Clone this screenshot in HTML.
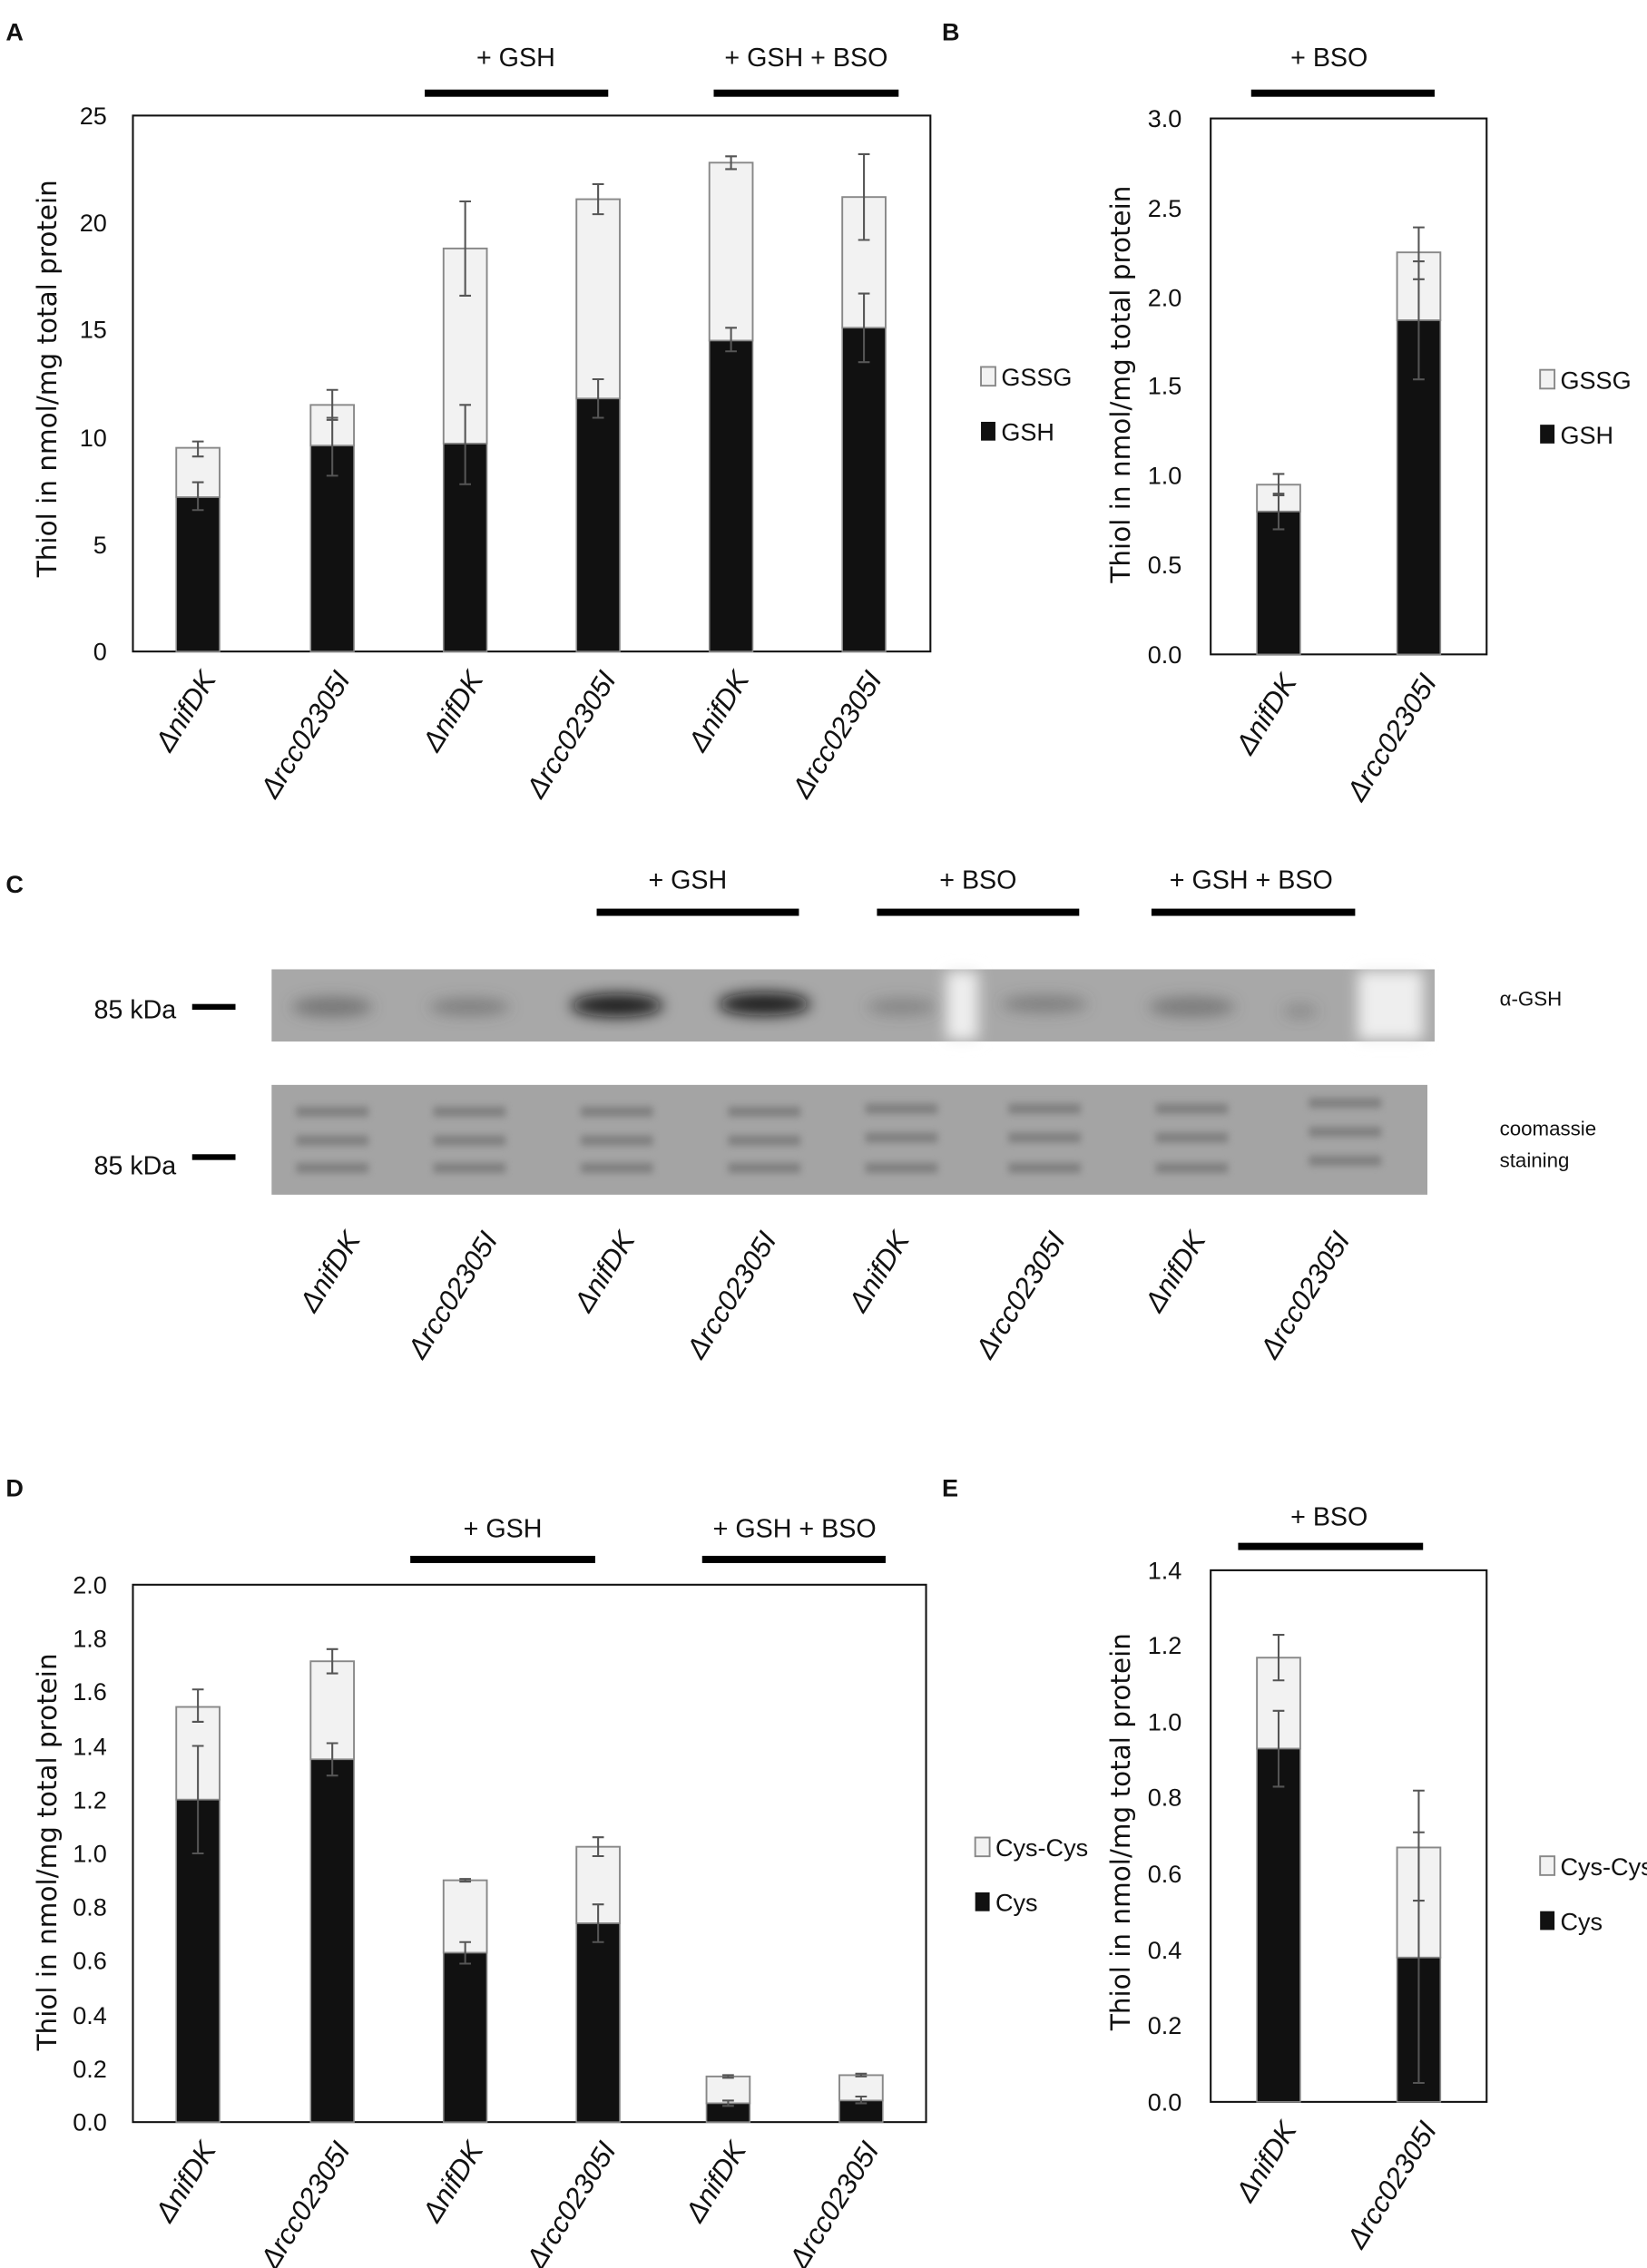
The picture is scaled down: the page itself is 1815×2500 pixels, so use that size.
<!DOCTYPE html>
<html><head><meta charset="utf-8"><style>html,body{margin:0;padding:0;background:#fff}svg{display:block}
.t{font-family:"Liberation Sans",sans-serif;font-size:17px;fill:#111}
.ti{font-family:"DejaVu Sans",sans-serif;font-size:18.5px;fill:#111}
.l{font-family:"Liberation Sans",sans-serif;font-size:19.5px;font-style:italic;fill:#111}
.h{font-family:"Liberation Sans",sans-serif;font-size:18px;fill:#111}
.p{font-family:"Liberation Sans",sans-serif;font-size:17px;font-weight:bold;fill:#111}
.g{fill:#f2f2f2;stroke:#888;stroke-width:1.2}.k{fill:#111;stroke:#888;stroke-width:1}
.e{stroke:#555;stroke-width:1.3;fill:none}
</style></head><body>
<svg width="1815" height="2500" viewBox="0 0 1140 1570" preserveAspectRatio="none" xmlns="http://www.w3.org/2000/svg">
<defs><filter id="bl" x="-50%" y="-50%" width="200%" height="200%"><feGaussianBlur stdDeviation="5"/></filter>
<filter id="bl2"><feGaussianBlur stdDeviation="2.5"/></filter></defs>
<!-- Panel A -->
<text class="p" x="4" y="28">A</text>
<text class="h" x="357" y="46" text-anchor="middle">+ GSH</text>
<rect x="294" y="62" width="127" height="5" fill="#000"/>
<text class="h" x="558" y="46" text-anchor="middle">+ GSH + BSO</text>
<rect x="494" y="62" width="128" height="5" fill="#000"/>
<rect x="92" y="80" width="552" height="371" fill="none" stroke="#111" stroke-width="1.3"/>
<g class="t" text-anchor="end">
<text x="74" y="457">0</text><text x="74" y="383">5</text><text x="74" y="309">10</text><text x="74" y="234">15</text><text x="74" y="160">20</text><text x="74" y="86">25</text></g>
<text class="ti" transform="translate(39,262) rotate(-90)" text-anchor="middle">Thiol in nmol/mg total protein</text>
<rect class="g" x="122" y="310" width="30" height="34.2"/><rect class="k" x="122" y="344.2" width="30" height="106.8"/>
<rect class="g" x="215" y="280.3" width="30" height="28.2"/><rect class="k" x="215" y="308.5" width="30" height="142.5"/>
<rect class="g" x="307" y="172" width="30" height="135.1"/><rect class="k" x="307" y="307.1" width="30" height="143.9"/>
<rect class="g" x="399" y="137.9" width="30" height="138"/><rect class="k" x="399" y="275.9" width="30" height="175.1"/>
<rect class="g" x="491" y="112.6" width="30" height="123.2"/><rect class="k" x="491" y="235.8" width="30" height="215.2"/>
<rect class="g" x="583" y="136.4" width="30" height="90.5"/><rect class="k" x="583" y="226.9" width="30" height="224.1"/>
<path class="e" d="M137 353.1V333.8M133 353.1h8M133 333.8h8M137 316V305.6M133 316h8M133 305.6h8
M230 329.3V289.2M226 329.3h8M226 289.2h8M230 290.7V269.9M226 290.7h8M226 269.9h8
M322 335.2V280.3M318 335.2h8M318 280.3h8M322 204.7V139.4M318 204.7h8M318 139.4h8
M414 289.2V262.5M410 289.2h8M410 262.5h8M414 148.3V127.5M410 148.3h8M410 127.5h8
M506 243.2V226.9M502 243.2h8M502 226.9h8M506 117.1V108.2M502 117.1h8M502 108.2h8
M598 250.7V203.2M594 250.7h8M594 203.2h8M598 166.1V106.7M594 166.1h8M594 106.7h8"/>
<rect class="g" x="679" y="254" width="10" height="13"/><text class="t" x="693" y="267">GSSG</text>
<rect x="679" y="292" width="10" height="13" fill="#111"/><text class="t" x="693" y="305">GSH</text>
<g class="l" text-anchor="end">
<text transform="translate(150,470) rotate(-58)">ΔnifDK</text>
<text transform="translate(243,470) rotate(-58)">Δrcc02305I</text>
<text transform="translate(335,470) rotate(-58)">ΔnifDK</text>
<text transform="translate(427,470) rotate(-58)">Δrcc02305I</text>
<text transform="translate(519,470) rotate(-58)">ΔnifDK</text>
<text transform="translate(611,470) rotate(-58)">Δrcc02305I</text>
</g>
<!-- Panel B -->
<text class="p" x="652" y="28">B</text>
<text class="h" x="920" y="46" text-anchor="middle">+ BSO</text>
<rect x="866" y="62" width="127" height="5" fill="#000"/>
<rect x="838" y="82" width="191" height="371" fill="none" stroke="#111" stroke-width="1.3"/>
<g class="t" text-anchor="end">
<text x="818" y="459">0.0</text><text x="818" y="397">0.5</text><text x="818" y="335">1.0</text><text x="818" y="273">1.5</text><text x="818" y="212">2.0</text><text x="818" y="150">2.5</text><text x="818" y="88">3.0</text></g>
<text class="ti" transform="translate(782,266) rotate(-90)" text-anchor="middle">Thiol in nmol/mg total protein</text>
<rect class="g" x="870" y="335.5" width="30" height="18.6"/><rect class="k" x="870" y="354.1" width="30" height="98.9"/>
<rect class="g" x="967" y="174.7" width="30" height="47"/><rect class="k" x="967" y="221.7" width="30" height="231.3"/>
<path class="e" d="M885 366.4V341.7M881 366.4h8M881 341.7h8M885 342.9V328.1M881 342.9h8M881 328.1h8
M982 262.6V180.9M978 262.6h8M978 180.9h8M982 193.3V157.4M978 193.3h8M978 157.4h8"/>
<rect class="g" x="1066" y="256" width="10" height="13"/><text class="t" x="1080" y="269">GSSG</text>
<rect x="1066" y="294" width="10" height="13" fill="#111"/><text class="t" x="1080" y="307">GSH</text>
<g class="l" text-anchor="end">
<text transform="translate(898,472) rotate(-58)">ΔnifDK</text>
<text transform="translate(995,472) rotate(-58)">Δrcc02305I</text>
</g>
<!-- Panel C -->
<text class="p" x="4" y="618">C</text>
<text class="h" x="476" y="615" text-anchor="middle">+ GSH</text>
<rect x="413" y="629" width="140" height="5" fill="#000"/>
<text class="h" x="677" y="615" text-anchor="middle">+ BSO</text>
<rect x="607" y="629" width="140" height="5" fill="#000"/>
<text class="h" x="866" y="615" text-anchor="middle">+ GSH + BSO</text>
<rect x="797" y="629" width="141" height="5" fill="#000"/>
<rect x="188" y="671" width="805" height="50" fill="#a8a8a8"/>
<g filter="url(#bl)" fill="#555">
<ellipse cx="230" cy="697" rx="28" ry="7" opacity="0.6"/><ellipse cx="325" cy="697" rx="28" ry="6" opacity="0.5"/>
<ellipse cx="427" cy="696" rx="32" ry="8" fill="#111" opacity="0.9"/><ellipse cx="529" cy="695" rx="32" ry="8" fill="#111" opacity="0.9"/>
<ellipse cx="624" cy="697" rx="24" ry="6" opacity="0.4"/><ellipse cx="723" cy="695" rx="30" ry="6" opacity="0.5"/>
<ellipse cx="825" cy="697" rx="30" ry="7" opacity="0.55"/><ellipse cx="900" cy="700" rx="12" ry="5" opacity="0.35"/></g>
<g filter="url(#bl)" fill="#eee"><rect x="655" y="672" width="22" height="48"/><rect x="940" y="672" width="45" height="48"/></g>
<rect x="188" y="751" width="800" height="76" fill="#a4a4a4"/>
<g filter="url(#bl2)" fill="#777" opacity="0.8">
<rect x="205" y="766" width="50" height="7"/><rect x="205" y="786" width="50" height="7"/><rect x="205" y="805" width="50" height="7"/>
<rect x="300" y="766" width="50" height="7"/><rect x="300" y="786" width="50" height="7"/><rect x="300" y="805" width="50" height="7"/>
<rect x="402" y="766" width="50" height="7"/><rect x="402" y="786" width="50" height="7"/><rect x="402" y="805" width="50" height="7"/>
<rect x="504" y="766" width="50" height="7"/><rect x="504" y="786" width="50" height="7"/><rect x="504" y="805" width="50" height="7"/>
<rect x="599" y="764" width="50" height="7"/><rect x="599" y="784" width="50" height="7"/><rect x="599" y="805" width="50" height="7"/>
<rect x="698" y="764" width="50" height="7"/><rect x="698" y="784" width="50" height="7"/><rect x="698" y="805" width="50" height="7"/>
<rect x="800" y="764" width="50" height="7"/><rect x="800" y="784" width="50" height="7"/><rect x="800" y="805" width="50" height="7"/>
<rect x="906" y="760" width="50" height="7"/><rect x="906" y="780" width="50" height="7"/><rect x="906" y="800" width="50" height="7"/>
</g>
<text class="h" x="122" y="705" text-anchor="end">85 kDa</text><rect x="133" y="695" width="30" height="4" fill="#000"/>
<text class="h" x="122" y="813" text-anchor="end">85 kDa</text><rect x="133" y="799" width="30" height="4" fill="#000"/>
<text class="t" x="1038" y="696" style="font-size:14px">α-GSH</text>
<text class="t" x="1038" y="786" style="font-size:14px">coomassie</text>
<text class="t" x="1038" y="808" style="font-size:14px">staining</text>
<g class="l" text-anchor="end">
<text transform="translate(250,858) rotate(-58)">ΔnifDK</text>
<text transform="translate(345,858) rotate(-58)">Δrcc02305I</text>
<text transform="translate(440,858) rotate(-58)">ΔnifDK</text>
<text transform="translate(538,858) rotate(-58)">Δrcc02305I</text>
<text transform="translate(630,858) rotate(-58)">ΔnifDK</text>
<text transform="translate(738,858) rotate(-58)">Δrcc02305I</text>
<text transform="translate(835,858) rotate(-58)">ΔnifDK</text>
<text transform="translate(935,858) rotate(-58)">Δrcc02305I</text>
</g>
<!-- Panel D -->
<text class="p" x="4" y="1036">D</text>
<text class="h" x="348" y="1064" text-anchor="middle">+ GSH</text>
<rect x="284" y="1077" width="128" height="5" fill="#000"/>
<text class="h" x="550" y="1064" text-anchor="middle">+ GSH + BSO</text>
<rect x="486" y="1077" width="127" height="5" fill="#000"/>
<rect x="92" y="1097" width="549" height="372" fill="none" stroke="#111" stroke-width="1.3"/>
<g class="t" text-anchor="end">
<text x="74" y="1475">0.0</text><text x="74" y="1438">0.2</text><text x="74" y="1401">0.4</text><text x="74" y="1363">0.6</text><text x="74" y="1326">0.8</text><text x="74" y="1289">1.0</text><text x="74" y="1252">1.2</text><text x="74" y="1215">1.4</text><text x="74" y="1177">1.6</text><text x="74" y="1140">1.8</text><text x="74" y="1103">2.0</text></g>
<text class="ti" transform="translate(39,1282) rotate(-90)" text-anchor="middle">Thiol in nmol/mg total protein</text>
<rect class="g" x="122" y="1181.6" width="30" height="64.2"/><rect class="k" x="122" y="1245.8" width="30" height="223.2"/>
<rect class="g" x="215" y="1150" width="30" height="67.9"/><rect class="k" x="215" y="1217.9" width="30" height="251.1"/>
<rect class="g" x="307" y="1301.6" width="30" height="50.2"/><rect class="k" x="307" y="1351.8" width="30" height="117.2"/>
<rect class="g" x="399" y="1278.4" width="30" height="53"/><rect class="k" x="399" y="1331.4" width="30" height="137.6"/>
<rect class="g" x="489" y="1437.4" width="30" height="18.6"/><rect class="k" x="489" y="1456" width="30" height="13"/>
<rect class="g" x="581" y="1436.5" width="30" height="17.6"/><rect class="k" x="581" y="1454.1" width="30" height="14.9"/>
<path class="e" d="M137 1283V1208.6M133 1283h8M133 1208.6h8M137 1191.9V1169.5M133 1191.9h8M133 1169.5h8
M230 1229.1V1206.7M226 1229.1h8M226 1206.7h8M230 1158.4V1141.6M226 1158.4h8M226 1141.6h8
M322 1359.3V1344.4M318 1359.3h8M318 1344.4h8M322 1302.5V1300.7M318 1302.5h8M318 1300.7h8
M414 1344.4V1318.3M410 1344.4h8M410 1318.3h8M414 1284.9V1271.8M410 1284.9h8M410 1271.8h8
M504 1457.8V1454.1M500 1457.8h8M500 1454.1h8M504 1438.3V1436.5M500 1438.3h8M500 1436.5h8
M596 1456V1451.3M592 1456h8M592 1451.3h8M596 1437.4V1435.5M592 1437.4h8M592 1435.5h8"/>
<rect class="g" x="675" y="1272" width="10" height="13"/><text class="t" x="689" y="1285">Cys-Cys</text>
<rect x="675" y="1310" width="10" height="13" fill="#111"/><text class="t" x="689" y="1323">Cys</text>
<g class="l" text-anchor="end">
<text transform="translate(150,1488) rotate(-58)">ΔnifDK</text>
<text transform="translate(243,1488) rotate(-58)">Δrcc02305I</text>
<text transform="translate(335,1488) rotate(-58)">ΔnifDK</text>
<text transform="translate(427,1488) rotate(-58)">Δrcc02305I</text>
<text transform="translate(517,1488) rotate(-58)">ΔnifDK</text>
<text transform="translate(609,1488) rotate(-58)">Δrcc02305I</text>
</g>
<!-- Panel E -->
<text class="p" x="652" y="1036">E</text>
<text class="h" x="920" y="1056" text-anchor="middle">+ BSO</text>
<rect x="857" y="1068" width="128" height="5" fill="#000"/>
<rect x="838" y="1087" width="191" height="368" fill="none" stroke="#111" stroke-width="1.3"/>
<g class="t" text-anchor="end">
<text x="818" y="1461">0.0</text><text x="818" y="1408">0.2</text><text x="818" y="1356">0.4</text><text x="818" y="1303">0.6</text><text x="818" y="1250">0.8</text><text x="818" y="1198">1.0</text><text x="818" y="1145">1.2</text><text x="818" y="1093">1.4</text></g>
<text class="ti" transform="translate(782,1268) rotate(-90)" text-anchor="middle">Thiol in nmol/mg total protein</text>
<rect class="g" x="870" y="1147.5" width="30" height="63"/><rect class="k" x="870" y="1210.5" width="30" height="244.5"/>
<rect class="g" x="967" y="1278.9" width="30" height="76.2"/><rect class="k" x="967" y="1355.1" width="30" height="99.9"/>
<path class="e" d="M885 1236.8V1184.3M881 1236.8h8M881 1184.3h8M885 1163.2V1131.7M881 1163.2h8M881 1131.7h8
M982 1441.9V1268.4M978 1441.9h8M978 1268.4h8M982 1315.7V1239.5M978 1315.7h8M978 1239.5h8"/>
<rect class="g" x="1066" y="1285" width="10" height="13"/><text class="t" x="1080" y="1298">Cys-Cys</text>
<rect x="1066" y="1323" width="10" height="13" fill="#111"/><text class="t" x="1080" y="1336">Cys</text>
<g class="l" text-anchor="end">
<text transform="translate(898,1474) rotate(-58)">ΔnifDK</text>
<text transform="translate(995,1474) rotate(-58)">Δrcc02305I</text>
</g>
</svg>
</body></html>
